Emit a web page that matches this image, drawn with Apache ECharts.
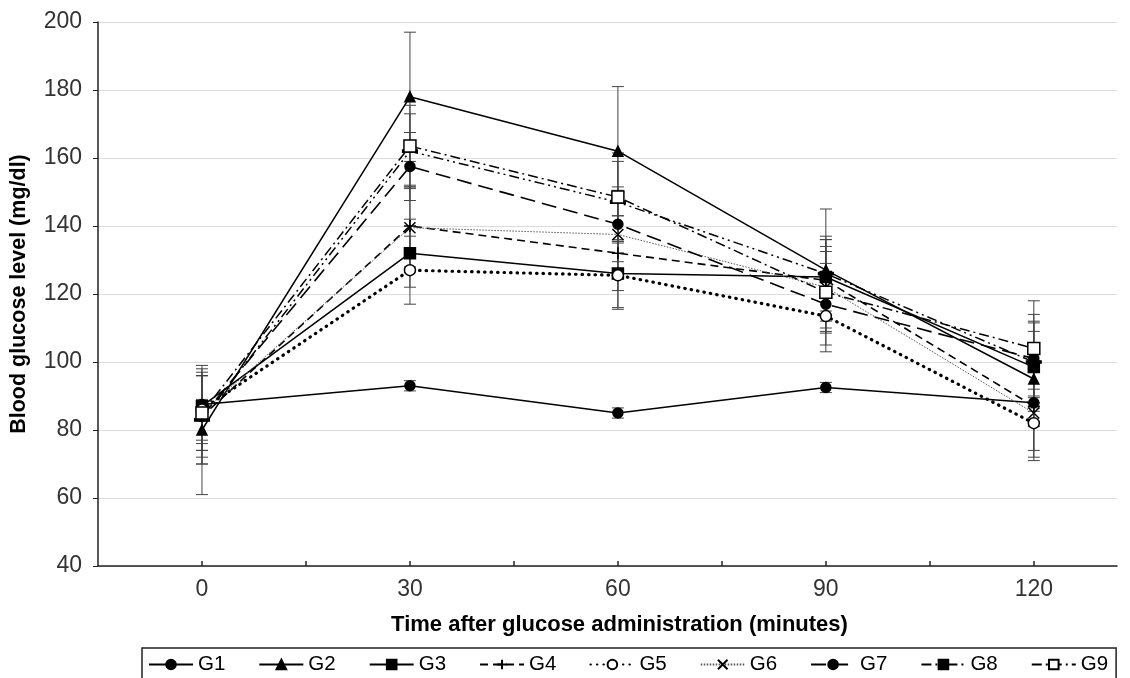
<!DOCTYPE html>
<html>
<head>
<meta charset="utf-8">
<script src="https://cdn.jsdelivr.net/npm/echarts@6/dist/echarts.min.js"></script>
<style>html,body{margin:0;padding:0;background:#fff;}#c{width:1130px;height:678px;}</style>
</head>
<body>
<div id="c"></div>
<script>
const times = [0, 30, 60, 90, 120];
const groupNames = ['G1','G2','G3','G4','G5','G6','G7','G8','G9'];
const G1 = [87.5, 93, 85, 92.5, 88];
const G2 = [80, 178, 162, 127, 95];
const G3 = [87, 132, 126, 125, 98.5];
const G4 = [84, 140, 132, 124, 87];
const G5 = [86, 127, 125.5, 113.5, 82];
const G6 = [85, 139.5, 137.5, 122, 85];
const G7 = [84, 157.5, 140.5, 117, 101];
const G8 = [83, 162, 147, 126, 100];
const G9 = [85, 163.5, 148.5, 120.5, 104];
const SD1 = [1.5, 1.5, 1.5, 1.5, 1.5];
const SD2 = [19, 19, 19, 18, 14];
const SD3 = [10, 10, 10, 11, 13];
const SD4 = [14, 12, 11, 12, 13];
const SD5 = [10, 10, 10, 10.5, 10];
const SD6 = [11, 12, 13, 12, 14];
const SD7 = [12, 10, 11, 12, 13];
const SD8 = [13, 11, 12, 11, 12];
const SD9 = [11, 12, 13, 12, 14];
const yTicks = [40, 60, 80, 100, 120, 140, 160, 180, 200];

const values = [G1,G2,G3,G4,G5,G6,G7,G8,G9];
const sds = [SD1,SD2,SD3,SD4,SD5,SD6,SD7,SD8,SD9];

const plus = 'path://M5,0L5,10M0,5L10,5';
const cross = 'path://M0,0L10,10M10,0L0,10';
const styles = [
  {symbol:'circle', size:10, fill:'#000', dash:'solid', width:1.5, color:'#000'},
  {symbol:'triangle', size:10, fill:'#000', dash:'solid', width:1.5, color:'#000'},
  {symbol:'rect', size:11, fill:'#000', dash:'solid', width:1.5, color:'#000'},
  {symbol:plus, size:12, fill:'none', dash:[8,5], width:1.6, color:'#000'},
  {symbol:'circle', size:11, fill:'#fff', dash:[0.5,6], width:3.2, color:'#000', cap:'round'},
  {symbol:cross, size:11, fill:'none', dash:[1.5,1.5], width:1, color:'#555'},
  {symbol:'circle', size:10, fill:'#000', dash:[15,7], width:1.6, color:'#000'},
  {symbol:'rect', size:[13,3], fill:'#000', dash:[10,4,2,4,2,4], width:1.5, color:'#000'},
  {symbol:'rect', size:12, fill:'#fff', dash:[10,4,2,4], width:1.5, color:'#000'}
];

const series = [];
groupNames.forEach((name, i) => {
  series.push({
    name: name + ' error',
    type: 'custom',
    z: 1,
    silent: true,
    data: times.map((t, j) => [t, values[i][j], sds[i][j]]),
    renderItem: function (params, api) {
      const x = api.value(0), y = api.value(1), s = api.value(2);
      const top = api.coord([x, y + s]);
      const bot = api.coord([x, y - s]);
      const hw = 6;
      const style = {stroke:'#444', lineWidth:1};
      return {type:'group', children:[
        {type:'line', shape:{x1:top[0], y1:top[1], x2:bot[0], y2:bot[1]}, style:style},
        {type:'line', shape:{x1:top[0]-hw, y1:top[1], x2:top[0]+hw, y2:top[1]}, style:style},
        {type:'line', shape:{x1:bot[0]-hw, y1:bot[1], x2:bot[0]+hw, y2:bot[1]}, style:style}
      ]};
    }
  });
});
groupNames.forEach((name, i) => {
  const st = styles[i];
  series.push({
    name: name,
    type: 'line',
    z: 3 + i,
    data: times.map((t, j) => [t, values[i][j]]),
    symbol: st.symbol,
    symbolSize: st.size,
    showAllSymbol: true,
    lineStyle: {color: st.color, width: st.width, type: st.dash, cap: st.cap || 'butt'},
    itemStyle: {color: st.fill, borderColor: '#000', borderWidth: 1.5},
    emphasis: {disabled: true}
  });
});

const chart = echarts.init(document.getElementById('c'), null, {renderer:'canvas'});
chart.setOption({
  animation: false,
  backgroundColor: '#fff',
  textStyle: {fontFamily: 'Liberation Sans, Arial, sans-serif'},
  grid: {left: 98, top: 22, right: 13, bottom: 112},
  legend: {
    data: groupNames,
    left: 142, top: 648, width: 990,
    itemWidth: 44, itemHeight: 12, itemGap: 33,
    padding: [6, 8, 10, 6],
    borderColor: '#222', borderWidth: 1.5,
    textStyle: {fontSize: 20.5, color: '#000', fontFamily: 'Liberation Sans, Arial, sans-serif'}
  },
  xAxis: {
    type: 'value', min: -15, max: 132, interval: 15,
    splitLine: {show: false},
    axisLine: {onZero: false, lineStyle: {color: '#222', width: 1.5}},
    axisTick: {inside: true, length: 5, lineStyle: {color: '#222', width: 1.5}},
    axisLabel: {
      fontSize: 23, color: '#333', margin: 12,
      showMaxLabel: false, showMinLabel: false,
      formatter: v => (v >= 0 && v % 30 === 0 && times.indexOf(v) >= 0) ? String(v) : ''
    },
    name: 'Time after glucose administration (minutes)',
    nameLocation: 'middle', nameGap: 48,
    nameTextStyle: {fontSize: 22, fontWeight: 'bold', color: '#000', padding: [0, 0, 0, 24]}
  },
  yAxis: {
    type: 'value', min: yTicks[0], max: yTicks[yTicks.length - 1], interval: 20,
    axisLine: {show: true, onZero: false, lineStyle: {color: '#222', width: 1.5}},
    axisTick: {show: true, inside: false, length: 5, lineStyle: {color: '#222'}},
    splitLine: {lineStyle: {color: '#dcdcdc', width: 1}},
    axisLabel: {fontSize: 23, color: '#333', margin: 16},
    name: 'Blood glucose level (mg/dl)',
    nameLocation: 'middle', nameGap: 68,
    nameTextStyle: {fontSize: 21.5, fontWeight: 'bold', color: '#000'}
  },
  series: series
});
</script>
</body>
</html>
